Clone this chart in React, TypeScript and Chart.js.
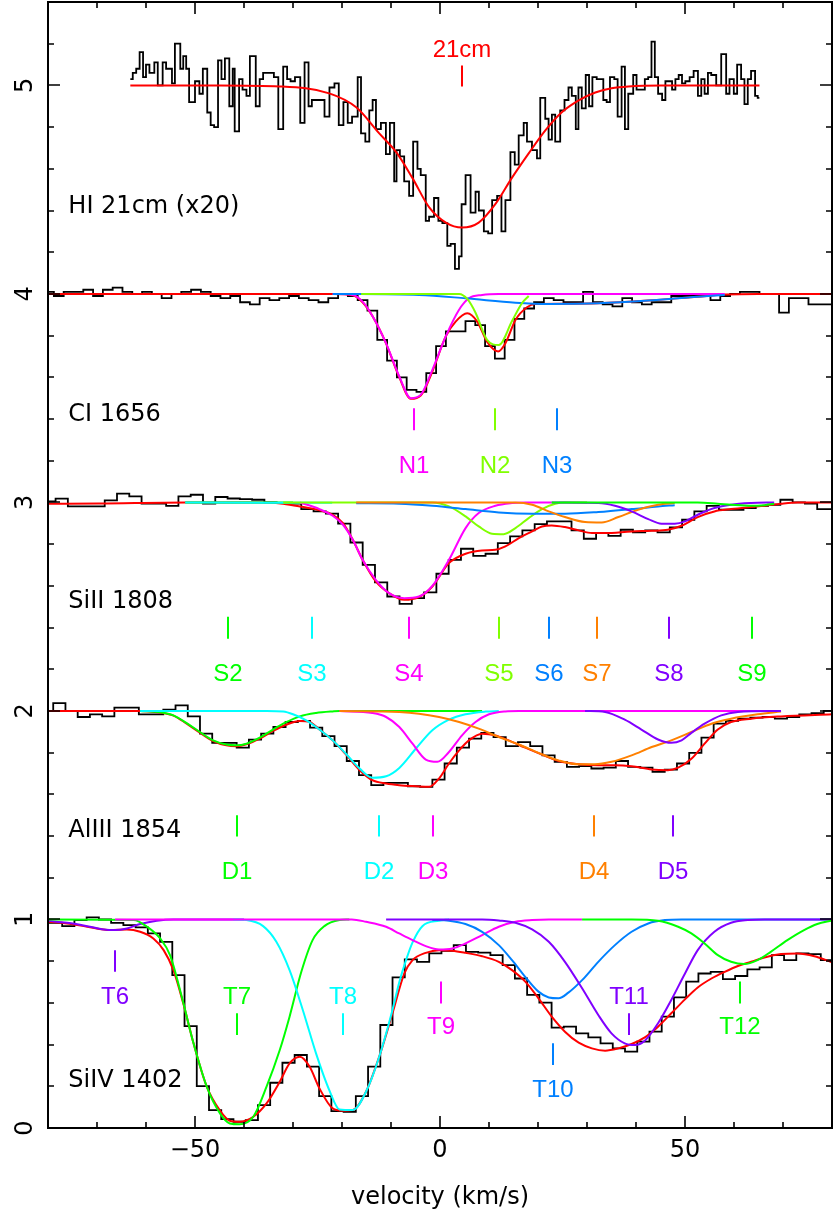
import React, { useEffect, useRef } from "react";
import { Chart, registerables } from "chart.js";
Chart.register(...registerables);

type Pt = [number, number];

// ---------------- axis ----------------
const X_MIN = -80, X_MAX = 80, Y_MIN = 0, Y_MAX = 5.4;
const xTickValues = [-50, 0, 50];
const xTickLabels = ["\u221250", "0", "50"];
const yTickValues = [0, 1, 2, 3, 4, 5];
const yTickLabels = ["0", "1", "2", "3", "4", "5"];
const xTitle = "velocity (km/s)";

// ---------------- HI 21cm (x20) ----------------
const hiVel = [
  -63.2, -62.7, -62.0, -61.3, -60.6, -60.0, -59.3, -58.3, -57.6, -56.6, -55.9, -54.7, -54.1, -53.0, -52.4, -51.8,
  -51.2, -50.0, -49.1, -48.4, -47.5, -46.8, -46.1, -45.3, -44.6, -43.9, -43.0, -42.3, -41.9, -41.0, -40.3, -39.5,
  -38.8, -37.6, -36.8, -36.1, -35.4, -34.6, -33.9, -33.0, -32.0, -31.2, -30.5, -29.6,
  -28.52, -27.64, -26.83, -26.15, -25.27, -24.45, -23.57, -22.56, -21.54, -20.66, -19.71, -18.83, -17.95, -16.8,
  -16.12, -15.24, -14.43, -13.75, -13.07, -12.06, -11.04, -10.23, -9.35, -8.87, -8.19, -7.31, -6.3, -5.48, -4.6,
  -3.93, -2.91, -2.23, -1.22, -0.33, 0.48, 1.49, 2.17, 3.05, 3.87, 4.41, 5.22, 6.24, 7.25, 7.93, 8.95, 9.83, 10.64,
  11.66, 12.54, 13.35, 14.37, 15.25, 16.06, 17.08, 17.75, 18.77, 19.79, 20.46, 21.48, 22.16, 22.84, 23.51, 24.53,
  25.41, 26.22, 26.9, 27.71,
  28.25, 28.93, 29.74, 30.42, 31.1, 31.98, 32.66, 33.33, 34.01, 34.69, 35.57, 36.25, 37.06, 37.74, 38.42, 39.43,
  40.11, 41.13, 41.8, 42.48, 43.16, 43.84, 44.51, 45.33, 46.0, 46.55, 47.36, 48.04, 48.71, 49.39, 50.07, 50.95,
  51.76, 52.64, 53.32, 54.0, 54.68, 55.35, 56.37, 57.39, 58.4, 59.08, 59.96, 60.64, 61.45, 62.13, 62.81, 63.48,
  64.3, 64.84,
];
const hiFlux = [
  5.03, 5.06, 5.08, 5.16, 5.04, 5.1, 5.06, 5.11, 5.0, 5.11, 5.08, 5.01, 5.2, 5.08, 5.14, 5.08,
  4.92, 5.02, 4.96, 5.08, 4.87, 4.81, 4.8, 5.12, 5.03, 5.13, 4.9, 5.08, 4.78, 5.03, 4.98, 4.95,
  5.14, 4.9, 5.03, 5.06, 5.06, 5.06, 5.04, 4.79, 5.09, 5.03, 5.02, 5.04,
  4.82, 5.11, 4.9, 4.93, 4.93, 4.93, 4.85, 4.99, 5.01, 4.81, 4.92, 4.82, 4.85, 5.04,
  4.77, 4.73, 4.88, 4.93, 4.79, 4.82, 4.67, 4.82, 4.54, 4.69, 4.66, 4.54, 4.47, 4.73, 4.6,
  4.57, 4.35, 4.37, 4.46, 4.35, 4.34, 4.23, 4.24, 4.12, 4.18, 4.43, 4.57, 4.39, 4.49, 4.4, 4.3, 4.29, 4.45,
  4.47, 4.3, 4.45, 4.68, 4.62, 4.76, 4.82, 4.73, 4.69, 4.65, 4.94, 4.84, 4.74, 4.86, 4.73, 4.88,
  4.93, 4.99, 4.95, 4.79,
  4.99, 4.89, 5.05, 4.9, 5.04, 5.03, 5.03, 4.93, 4.92, 5.04, 5.03, 4.85, 5.09, 4.79, 4.96, 5.05,
  4.98, 4.98, 5.03, 5.04, 5.21, 5.04, 4.96, 4.93, 5.02, 5.02, 4.98, 5.03, 5.05, 5.01, 5.02, 5.04,
  5.07, 4.95, 5.03, 4.96, 5.06, 5.05, 5.0, 5.15, 4.96, 5.03, 4.96, 5.1, 5.03, 4.91, 5.03, 5.07,
  4.95, 4.94,
];
const hiEnd = 65.18;
const hiFit: Pt[] = [
  [-63.2, 5.0], [-45, 5.0], [-32.7, 4.995], [-22.6, 4.962], [-17.1, 4.895], [-12.4, 4.77], [-8.9, 4.679],
  [-5.7, 4.559], [-2.2, 4.415], [1.2, 4.342], [4.5, 4.318], [7.9, 4.342], [11.4, 4.434], [14.6, 4.554],
  [18.1, 4.674], [21.5, 4.784], [24.8, 4.87], [28.3, 4.928], [31.7, 4.966], [35.0, 4.986], [38.4, 4.995],
  [45, 5.0], [65.2, 5.0],
];
const hiMarkNames = ["21cm"];
const hiMarkVel = [4.47];

// ---------------- CI 1656 ----------------
const ciStart = -80.8, ciStep = 2.0;
const ciFlux = [
  4.01, 3.99, 4.01, 4.01, 4.02, 3.99, 4.02, 4.03, 4.01, 4.0,
  4.01, 4.0, 3.98, 4.0, 4.01, 4.02, 4.01, 3.99, 3.98, 3.99,
  3.96, 3.95, 3.98, 3.97, 3.98, 3.99, 3.98, 3.97, 3.96, 3.98,
  4.0, 3.99, 3.97, 3.92, 3.78, 3.68, 3.6, 3.54, 3.53, 3.62,
  3.75, 3.82, 3.82, 3.87, 3.85, 3.75, 3.69, 3.78, 3.88, 3.93,
  3.96, 3.98, 3.97, 3.96, 3.96, 4.01, 3.96, 3.95, 3.94, 3.98,
  3.96, 3.95, 3.96, 3.96, 3.99, 3.99, 3.99, 3.99, 3.97, 3.99,
  4.0, 4.01, 4.01, 4.0, 4.0, 3.91, 3.98, 3.98, 3.95, 3.95,
];
const ciFit: Pt[] = [
  [-80, 4.0], [-21.9, 4.0], [-17.8, 3.994], [-15.8, 3.96], [-13.7, 3.89], [-11.0, 3.762], [-8.3, 3.6],
  [-5.96, 3.497], [-3.93, 3.513], [-1.56, 3.628], [1.15, 3.795], [3.19, 3.867], [5.56, 3.907], [7.6, 3.867],
  [9.6, 3.771], [11.86, 3.724], [13.35, 3.764], [15.4, 3.875], [17.75, 3.936], [19.45, 3.952], [25, 3.953],
  [32.3, 3.955], [42.5, 3.968], [52.6, 3.987], [58.1, 3.997], [65, 4.0], [80, 4.0],
];
const ciN1: Pt[] = [
  [-21.9, 4.0], [-17.8, 3.995], [-15.8, 3.963], [-13.7, 3.891], [-11.0, 3.763], [-8.3, 3.604], [-5.96, 3.5],
  [-3.93, 3.516], [-1.56, 3.636], [1.15, 3.795], [3.86, 3.923], [5.9, 3.979], [8.6, 3.995], [12.0, 4.0], [58.1, 4.0],
];
const ciN2: Pt[] = [
  [-16.1, 4.0], [3.9, 4.0], [5.6, 3.975], [7.25, 3.91], [9.6, 3.78], [12.0, 3.755], [14.7, 3.87], [16.7, 3.955], [18.1, 3.99],
];
const ciN3: Pt[] = [
  [-21.9, 4.0], [-4.3, 3.995], [5.2, 3.979], [15.4, 3.958], [22.2, 3.952], [32.3, 3.955], [42.5, 3.968], [52.6, 3.987], [58.1, 3.995],
];
const ciMarkNames = ["N1", "N2", "N3"];
const ciMarkVel = [-5.3, 11.3, 23.85];

// ---------------- SiII 1808 ----------------
const siiStart = -80.96, siiStep = 2.507;
const siiFlux = [
  3.005, 3.018, 2.981, 2.981, 2.981, 3.01, 3.042, 3.029, 2.994, 2.994,
  2.984, 3.029, 3.037, 2.994, 3.026, 3.019, 3.016, 3.013, 3.0, 2.997,
  2.994, 2.968, 2.957, 2.946, 2.898, 2.808, 2.701, 2.617, 2.549, 2.514,
  2.541, 2.569, 2.658, 2.725, 2.778, 2.744, 2.754, 2.805, 2.837, 2.866,
  2.896, 2.909, 2.909, 2.866, 2.826, 2.853, 2.84, 2.869, 2.856, 2.866,
  2.856, 2.88, 2.917, 2.957, 2.984, 2.965, 2.965, 2.973, 2.984, 2.989,
  3.013, 3.0, 2.994, 2.968,
];
const siiFit: Pt[] = [
  [-80, 2.994], [-69.6, 2.995], [-52, 3.0], [-35.4, 3.0], [-32, 2.994], [-28.6, 2.981], [-24.6, 2.962],
  [-21.9, 2.941], [-19.8, 2.901], [-17.8, 2.821], [-15.8, 2.725], [-13.1, 2.621], [-10.4, 2.565], [-7.3, 2.533],
  [-4.3, 2.546], [-1.56, 2.597], [1.83, 2.709], [5.22, 2.754], [8.6, 2.77], [11.3, 2.773], [13.35, 2.789],
  [16.1, 2.829], [18.8, 2.861], [20.8, 2.885], [22.8, 2.89], [25.5, 2.882], [28.3, 2.866], [31.0, 2.853],
  [33.7, 2.853], [39.1, 2.861], [43.2, 2.864], [46.5, 2.869], [49.3, 2.888], [52.6, 2.93], [56.0, 2.957],
  [59.4, 2.968], [63.5, 2.978], [66.2, 2.984], [69.6, 2.994], [73.0, 3.0], [80, 3.0],
];
const siiS2: Pt[] = [[-52, 3.0], [-30, 3.0]];
const siiS3: Pt[] = [[-52, 3.0], [-35, 2.999], [-22, 2.998]];
const siiS4: Pt[] = [
  [-28.6, 3.0], [-24.6, 2.968], [-21.9, 2.936], [-19.8, 2.893], [-17.8, 2.821], [-15.8, 2.725], [-13.1, 2.629],
  [-10.4, 2.565], [-7.3, 2.541], [-4.3, 2.549], [-1.56, 2.6], [1.83, 2.725], [5.22, 2.877], [7.9, 2.949],
  [11.3, 2.984], [14.7, 2.997], [17.4, 3.0], [22.8, 3.0],
];
const siiS5: Pt[] = [
  [-32, 3.0], [-1.56, 3.0], [1.83, 2.981], [5.22, 2.933], [7.9, 2.885], [10.6, 2.85], [13.0, 2.848],
  [15.4, 2.877], [18.1, 2.925], [20.8, 2.968], [23.5, 2.994], [25.5, 3.0], [30, 3.0],
];
const siiS6: Pt[] = [
  [-17.1, 2.996], [-8.3, 2.994], [-1.56, 2.984], [5.2, 2.968], [12.0, 2.952], [18.8, 2.946], [25.5, 2.946],
  [32.3, 2.954], [39.1, 2.968], [44.5, 2.981], [47.9, 2.987],
];
const siiS7: Pt[] = [
  [-17.1, 3.0], [15.4, 3.0], [18.8, 2.989], [22.2, 2.957], [25.5, 2.93], [29.6, 2.906], [33.0, 2.904],
  [36.4, 2.93], [40.4, 2.965], [44.5, 2.989], [47.9, 2.997],
];
const siiS8: Pt[] = [
  [22.8, 3.0], [32.3, 2.997], [35.7, 2.984], [39.1, 2.957], [42.5, 2.92], [45.2, 2.898], [47.9, 2.898],
  [50.0, 2.909], [52.6, 2.941], [56.0, 2.973], [59.4, 2.989], [63.5, 2.997], [68.2, 3.0],
];
const siiS9: Pt[] = [
  [22.8, 3.0], [52.6, 3.0], [56.7, 2.994], [59.4, 2.989], [63.5, 2.984], [66.2, 2.987], [68.2, 2.994],
];
const siiMarkNames = ["S2", "S3", "S4", "S5", "S6", "S7", "S8", "S9"];
const siiMarkVel = [-43.2, -26.2, -6.4, 12.0, 22.3, 32.0, 46.7, 63.6];

// ---------------- AlIII 1854 ----------------
const alStart = -81.43, alStep = 2.496;
const alFlux = [
  2.0, 2.038, 2.0, 1.971, 1.984, 1.974, 2.016, 2.016, 1.984, 1.984,
  2.006, 2.027, 1.974, 1.891, 1.847, 1.847, 1.824, 1.863, 1.891, 1.923,
  1.947, 1.952, 1.92, 1.879, 1.831, 1.76, 1.692, 1.644, 1.655, 1.655,
  1.639, 1.636, 1.671, 1.748, 1.824, 1.867, 1.895, 1.875, 1.831, 1.851,
  1.831, 1.787, 1.756, 1.732, 1.735, 1.724, 1.728, 1.76, 1.732, 1.728,
  1.708, 1.719, 1.748, 1.799, 1.872, 1.939, 1.952, 1.963, 1.968, 1.971,
  1.963, 1.971, 1.984, 1.99, 2.0,
];
const alFit: Pt[] = [
  [-80, 2.0], [-61.2, 2.0], [-57.1, 1.992], [-54.4, 1.978], [-51.7, 1.939], [-49.0, 1.896], [-46.3, 1.856],
  [-43.6, 1.835], [-41.5, 1.831], [-39.5, 1.84], [-36.8, 1.867], [-34.1, 1.904], [-31.4, 1.934], [-28.6, 1.952],
  [-26.6, 1.947], [-24.6, 1.911], [-21.9, 1.859], [-19.2, 1.792], [-16.4, 1.716], [-13.8, 1.668], [-11.0, 1.652],
  [-8.3, 1.644], [-4.9, 1.639], [-2.2, 1.636], [-0.2, 1.676], [1.83, 1.748], [3.9, 1.811], [5.9, 1.859],
  [8.6, 1.891], [11.3, 1.883], [14.0, 1.859], [17.4, 1.824], [20.8, 1.791], [24.2, 1.76], [28.3, 1.744],
  [32.3, 1.74], [35.7, 1.74], [39.1, 1.735], [43.2, 1.719], [46.5, 1.716], [48.6, 1.728], [51.3, 1.771],
  [54.0, 1.843], [56.7, 1.911], [59.4, 1.947], [63.5, 1.963], [69.6, 1.974], [80, 1.984],
];
const alD1: Pt[] = [
  [-61.2, 2.0], [-57.1, 1.994], [-54.4, 1.979], [-51.7, 1.942], [-49.0, 1.899], [-46.3, 1.859], [-43.6, 1.839],
  [-41.5, 1.835], [-39.5, 1.843], [-36.8, 1.872], [-34.1, 1.911], [-31.4, 1.946], [-28.6, 1.974], [-25.3, 1.99],
  [-21.9, 1.998], [-20.5, 2.0], [8.6, 2.0],
];
const alD2: Pt[] = [
  [-61.2, 2.0], [-35.4, 2.0], [-32.0, 1.997], [-30.0, 1.984], [-27.3, 1.955], [-24.6, 1.911], [-21.9, 1.859],
  [-19.2, 1.795], [-16.4, 1.724], [-13.8, 1.68], [-11.0, 1.687], [-8.3, 1.727], [-4.9, 1.82], [-1.56, 1.907],
  [1.83, 1.958], [5.2, 1.984], [9.3, 1.997], [12.0, 2.0],
];
const alD3: Pt[] = [
  [-20.5, 2.0], [-13.8, 1.99], [-11.0, 1.971], [-8.3, 1.923], [-5.6, 1.843], [-2.9, 1.767], [-0.54, 1.756],
  [1.83, 1.803], [4.5, 1.883], [7.25, 1.947], [10.0, 1.984], [13.35, 1.998], [16.1, 2.0], [69.6, 2.0],
];
const alD4: Pt[] = [
  [-20.5, 2.0], [-8.3, 1.995], [-4.3, 1.987], [-0.2, 1.971], [3.9, 1.947], [7.9, 1.915], [12.0, 1.875],
  [16.1, 1.839], [20.1, 1.799], [24.2, 1.763], [28.3, 1.744], [31.6, 1.744], [35.0, 1.756], [39.1, 1.787],
  [43.2, 1.827], [47.2, 1.859], [51.3, 1.899], [55.4, 1.939], [59.4, 1.963], [64.8, 1.984], [69.6, 1.997],
];
const alD5: Pt[] = [
  [29.6, 2.0], [33.7, 1.995], [37.7, 1.958], [41.1, 1.911], [44.5, 1.863], [47.2, 1.847], [49.3, 1.859],
  [51.3, 1.895], [54.0, 1.939], [57.4, 1.979], [60.8, 1.995], [69.6, 2.0],
];
const alMarkNames = ["D1", "D2", "D3", "D4", "D5"];
const alMarkVel = [-41.4, -12.4, -1.35, 31.5, 47.6];

// ---------------- SiIV 1402 ----------------
const sivStart = -82.1, sivStep = 2.497;
const sivFlux = [
  0.984, 0.984, 0.968, 0.997, 1.01, 1.0, 0.984, 0.973, 0.962, 0.933,
  0.893, 0.733, 0.489, 0.201, 0.086, 0.043, 0.03, 0.038, 0.11, 0.217,
  0.313, 0.35, 0.294, 0.153, 0.081, 0.078, 0.153, 0.294, 0.494, 0.722,
  0.809, 0.797, 0.837, 0.85, 0.877, 0.845, 0.841, 0.829, 0.781, 0.717,
  0.638, 0.601, 0.481, 0.486, 0.454, 0.435, 0.406, 0.382, 0.366, 0.414,
  0.462, 0.534, 0.626, 0.702, 0.741, 0.749, 0.714, 0.729, 0.761, 0.77,
  0.829, 0.805, 0.837, 0.834, 0.805,
];
const sivFit: Pt[] = [
  [-80, 0.989], [-76.1, 0.981], [-72.0, 0.965], [-67.3, 0.949], [-63.9, 0.952], [-61.2, 0.941], [-58.5, 0.909],
  [-56.4, 0.853], [-54.4, 0.757], [-52.4, 0.598], [-50.3, 0.406], [-47.6, 0.198], [-44.9, 0.083], [-42.9, 0.035],
  [-40.9, 0.03], [-38.1, 0.054], [-35.4, 0.118], [-32.7, 0.222], [-30.7, 0.31], [-28.6, 0.342], [-26.6, 0.294],
  [-24.6, 0.19], [-21.9, 0.094], [-19.9, 0.083], [-17.8, 0.086], [-15.1, 0.174], [-12.4, 0.342], [-9.7, 0.55],
  [-7.3, 0.74], [-5.6, 0.805], [-2.9, 0.84], [-0.2, 0.853], [2.5, 0.85], [5.2, 0.84], [8.6, 0.824], [12.0, 0.797],
  [14.7, 0.757], [17.4, 0.702], [20.1, 0.622], [22.8, 0.534], [25.5, 0.462], [28.3, 0.409], [31.0, 0.382],
  [33.7, 0.371], [36.4, 0.382], [39.1, 0.403], [41.8, 0.435], [44.5, 0.486], [47.2, 0.55], [50.0, 0.617],
  [52.6, 0.674], [55.4, 0.717], [58.1, 0.749], [60.8, 0.777], [63.5, 0.797], [66.2, 0.818], [69.6, 0.834],
  [73.0, 0.837], [76.4, 0.824], [80, 0.795],
];
const sivT6: Pt[] = [
  [-80, 0.994], [-76.1, 0.984], [-72.0, 0.968], [-68.6, 0.952], [-66.3, 0.949], [-63.9, 0.957], [-61.2, 0.978],
  [-57.8, 0.994], [-54.4, 1.0], [-40, 1.0],
];
const sivT7: Pt[] = [
  [-80, 1.0], [-62.5, 0.998], [-59.8, 0.965], [-57.1, 0.909], [-55.1, 0.829], [-52.7, 0.63], [-50.3, 0.406],
  [-47.6, 0.198], [-44.9, 0.07], [-42.9, 0.022], [-40.9, 0.018], [-38.1, 0.054], [-35.4, 0.198], [-32.7, 0.374],
  [-30.7, 0.534], [-28.3, 0.749], [-26.0, 0.901], [-23.6, 0.968], [-20.5, 0.997], [-18.5, 1.0],
];
const sivT8: Pt[] = [
  [-42.2, 1.0], [-39.5, 0.997], [-36.1, 0.968], [-33.4, 0.893], [-30.7, 0.757], [-28.0, 0.566], [-25.3, 0.358],
  [-22.6, 0.182], [-20.5, 0.089], [-17.8, 0.086], [-15.1, 0.174], [-12.4, 0.342], [-9.7, 0.566], [-8.3, 0.7],
  [-7.0, 0.8], [-5.6, 0.89], [-3.6, 0.968], [-0.2, 0.994], [1.83, 1.0],
];
const sivT9: Pt[] = [
  [-66.3, 1.0], [-18, 1.0], [-15.1, 0.989], [-11.0, 0.965], [-8.33, 0.933], [-5.6, 0.901], [-2.9, 0.872],
  [-0.2, 0.856], [2.5, 0.861], [5.2, 0.885], [8.6, 0.925], [12.0, 0.965], [15.4, 0.989], [18.8, 0.997],
  [22.2, 1.0], [29.0, 1.0],
];
const sivT10: Pt[] = [
  [-1.56, 0.998], [1.83, 0.994], [5.2, 0.978], [8.6, 0.941], [12.0, 0.877], [14.7, 0.805], [17.4, 0.725],
  [20.1, 0.654], [22.2, 0.626], [24.2, 0.622], [26.2, 0.649], [29.0, 0.709], [32.3, 0.797], [35.7, 0.877],
  [39.1, 0.941], [42.5, 0.981], [45.9, 0.997], [49.3, 1.0], [80, 1.0],
];
const sivT11: Pt[] = [
  [-11, 1.0], [8.6, 1.0], [12.0, 0.995], [15.4, 0.984], [18.8, 0.952], [22.2, 0.893], [25.5, 0.797],
  [29.0, 0.67], [32.3, 0.542], [35.0, 0.454], [37.7, 0.406], [39.8, 0.398], [41.8, 0.419], [44.5, 0.502],
  [47.2, 0.614], [50.0, 0.741], [52.6, 0.853], [56.0, 0.941], [59.4, 0.984], [62.8, 0.997], [66.2, 1.0], [80, 1.0],
];
const sivT12: Pt[] = [
  [29.0, 1.0], [39.1, 1.0], [44.5, 0.994], [48.6, 0.965], [51.3, 0.933], [54.0, 0.885], [56.7, 0.829],
  [59.4, 0.797], [62.1, 0.786], [64.8, 0.805], [67.5, 0.845], [70.9, 0.901], [74.3, 0.949], [77.0, 0.978], [80, 0.995],
];
const sivMarkNames = ["T6", "T7", "T8", "T9", "T10", "T11", "T12"];
const sivMarkVel = [-66.3, -41.4, -19.7, 0.14, 22.97, 38.55, 61.3];

// ---------------- panel labels ----------------
const panelNames = ["HI 21cm (x20)", "CI 1656", "SiII 1808", "AlIII 1854", "SiIV 1402"];

// ---------------- styles / layout (not data) ----------------
const C = {
  red: "#ff0000", green: "#00ff00", cyan: "#00ffff", magenta: "#ff00ff", lime: "#80ff00",
  blue: "#0080ff", orange: "#ff8000", purple: "#8000ff", black: "#000000",
};
const panelLabelX = -75.85; // left edge of labels, km/s
const panelLabelY = [4.431, 3.434, 2.536, 1.436, 0.237];
// per marker: [tick bottom, tick top, label centre]  (data units)
const hiMarkLayout = [[4.995, 5.096, 5.176]];
const ciMarkLayout = [[3.346, 3.452, 3.183], [3.346, 3.452, 3.183], [3.346, 3.452, 3.183]];
const siiMarkLayout = siiMarkNames.map(() => [2.346, 2.452, 2.187]);
const alMarkLayout = alMarkNames.map(() => [1.398, 1.5, 1.237]);
const sivMarkLayout = [
  [0.749, 0.853, 0.638], [0.446, 0.55, 0.638], [0.446, 0.55, 0.638], [0.597, 0.702, 0.494],
  [0.302, 0.407, 0.19], [0.446, 0.55, 0.638], [0.597, 0.702, 0.494],
];
const hiMarkColors = [C.red];
const ciMarkColors = [C.magenta, C.lime, C.blue];
const siiMarkColors = [C.green, C.cyan, C.magenta, C.lime, C.blue, C.orange, C.purple, C.green];
const alMarkColors = [C.green, C.cyan, C.magenta, C.orange, C.purple];
const sivMarkColors = [C.purple, C.green, C.cyan, C.magenta, C.blue, C.purple, C.green];

// ---------------- builders ----------------
function histFromEdges(vel: number[], flux: number[], end: number) {
  const pts = vel.map((v, i) => ({ x: v, y: flux[i] }));
  pts.push({ x: end, y: flux[flux.length - 1] });
  return pts;
}
function histFromGrid(start: number, step: number, flux: number[]) {
  const vel = flux.map((_, i) => +(start + i * step).toFixed(3));
  const end = Math.max(start + flux.length * step, X_MAX + 1);
  return histFromEdges(vel, flux, end);
}
function histSet(data: any[]) {
  return {
    data, borderColor: C.black, borderWidth: 1.8, pointRadius: 0, fill: false,
    stepped: "before", tension: 0, clip: 0,
  };
}
function curveSet(pts: Pt[], color: string, width = 2) {
  return {
    data: pts.map(([x, y]) => ({ x, y })), borderColor: color, borderWidth: width, pointRadius: 0,
    fill: false, cubicInterpolationMode: "monotone", tension: 0.4, clip: 0,
  };
}

// datasets in paint order (first = bottom)
const paint = [
  histSet(histFromEdges(hiVel, hiFlux, hiEnd)),
  curveSet(hiFit, C.red),

  histSet(histFromGrid(ciStart, ciStep, ciFlux)),
  curveSet(ciFit, C.red),
  curveSet(ciN1, C.magenta),
  curveSet(ciN3, C.blue),
  curveSet(ciN2, C.lime),

  histSet(histFromGrid(siiStart, siiStep, siiFlux)),
  curveSet(siiFit, C.red),
  curveSet(siiS2, C.green),
  curveSet(siiS3, C.cyan),
  curveSet(siiS4, C.magenta),
  curveSet(siiS5, C.lime),
  curveSet(siiS6, C.blue),
  curveSet(siiS7, C.orange),
  curveSet(siiS8, C.purple),
  curveSet(siiS9, C.green),

  histSet(histFromGrid(alStart, alStep, alFlux)),
  curveSet(alFit, C.red),
  curveSet(alD1, C.green),
  curveSet(alD2, C.cyan),
  curveSet(alD3, C.magenta),
  curveSet(alD4, C.orange),
  curveSet(alD5, C.purple),

  histSet(histFromGrid(sivStart, sivStep, sivFlux)),
  curveSet(sivFit, C.red),
  curveSet(sivT6, C.purple),
  curveSet(sivT7, C.green),
  curveSet(sivT8, C.cyan),
  curveSet(sivT9, C.magenta),
  curveSet(sivT10, C.blue),
  curveSet(sivT11, C.purple),
  curveSet(sivT12, C.green),
];
const datasets = paint.map((d, i) => ({ ...d, order: paint.length - i }));

const markerGroups = [
  { names: hiMarkNames, vels: hiMarkVel, layout: hiMarkLayout, colors: hiMarkColors },
  { names: ciMarkNames, vels: ciMarkVel, layout: ciMarkLayout, colors: ciMarkColors },
  { names: siiMarkNames, vels: siiMarkVel, layout: siiMarkLayout, colors: siiMarkColors },
  { names: alMarkNames, vels: alMarkVel, layout: alMarkLayout, colors: alMarkColors },
  { names: sivMarkNames, vels: sivMarkVel, layout: sivMarkLayout, colors: sivMarkColors },
];

const MAIN_FONT = '24px "DejaVu Sans"';
const MARK_FONT = '24px "Liberation Sans"';

const overlay = {
  id: "overlay",
  afterDatasetsDraw(chart: any) {
    const { ctx, chartArea: a } = chart;
    const xs = chart.scales.x, ys = chart.scales.y;
    const X = (v: number) => xs.getPixelForValue(v);
    const Y = (v: number) => ys.getPixelForValue(v);
    ctx.save();

    // panel labels
    ctx.fillStyle = C.black;
    ctx.font = MAIN_FONT;
    ctx.textAlign = "left";
    ctx.textBaseline = "alphabetic";
    panelNames.forEach((t, i) => ctx.fillText(t, X(panelLabelX), Y(panelLabelY[i]) + 8.7));

    // component markers
    ctx.font = MARK_FONT;
    ctx.textAlign = "center";
    ctx.lineWidth = 2;
    markerGroups.forEach((g) => {
      g.names.forEach((n, i) => {
        const [lo, hi, ly] = g.layout[i];
        const px = Math.round(X(g.vels[i]));
        ctx.strokeStyle = g.colors[i];
        ctx.fillStyle = g.colors[i];
        ctx.beginPath();
        ctx.moveTo(px, Y(lo));
        ctx.lineTo(px, Y(hi));
        ctx.stroke();
        ctx.fillText(n, px, Y(ly) + 8.6);
      });
    });

    // frame
    ctx.strokeStyle = C.black;
    ctx.lineWidth = 2;
    ctx.strokeRect(a.left, a.top, a.right - a.left, a.bottom - a.top);

    // ticks
    ctx.lineWidth = 1.6;
    ctx.beginPath();
    for (let v = X_MIN + 10; v < X_MAX; v += 10) {
      const len = v % 50 === 0 ? 12 : 6;
      const px = Math.round(X(v));
      ctx.moveTo(px, a.bottom); ctx.lineTo(px, a.bottom - len);
      ctx.moveTo(px, a.top); ctx.lineTo(px, a.top + len);
    }
    for (let k = 1; k * 0.2 < Y_MAX - 0.01; k++) {
      const len = k % 5 === 0 ? 12 : 6;
      const py = Math.round(Y(k * 0.2));
      ctx.moveTo(a.left, py); ctx.lineTo(a.left + len, py);
      ctx.moveTo(a.right, py); ctx.lineTo(a.right - len, py);
    }
    ctx.stroke();

    // tick labels
    ctx.fillStyle = C.black;
    ctx.font = MAIN_FONT;
    ctx.textAlign = "center";
    ctx.textBaseline = "alphabetic";
    xTickValues.forEach((v, i) => ctx.fillText(xTickLabels[i], X(v), a.bottom + 29));
    yTickValues.forEach((v, i) => {
      ctx.save();
      ctx.translate(a.left - 16, Y(v));
      ctx.rotate(-Math.PI / 2);
      ctx.fillText(yTickLabels[i], 0, 0);
      ctx.restore();
    });
    ctx.fillText(xTitle, (a.left + a.right) / 2, a.bottom + 76);
    ctx.restore();
  },
};

export default function App() {
  const ref = useRef<HTMLCanvasElement>(null);
  useEffect(() => {
    const canvas = ref.current;
    if (!canvas) return;
    const chart = new Chart(canvas, {
      type: "line",
      data: { datasets: datasets as any },
      options: {
        responsive: false,
        animation: false,
        devicePixelRatio: 1,
        events: [],
        layout: { padding: { left: 48, right: 1, top: 2, bottom: 92 } },
        plugins: { legend: { display: false }, tooltip: { enabled: false } },
        scales: {
          x: { type: "linear", min: X_MIN, max: X_MAX, display: false },
          y: { type: "linear", min: Y_MIN, max: Y_MAX, display: false },
        },
      },
      plugins: [overlay],
    });
    return () => chart.destroy();
  }, []);
  return (
    <canvas
      ref={ref}
      width={833}
      height={1220}
      style={{ position: "absolute", left: 0, top: 0, width: 833, height: 1220, display: "block", background: "#fff" }}
    />
  );
}
